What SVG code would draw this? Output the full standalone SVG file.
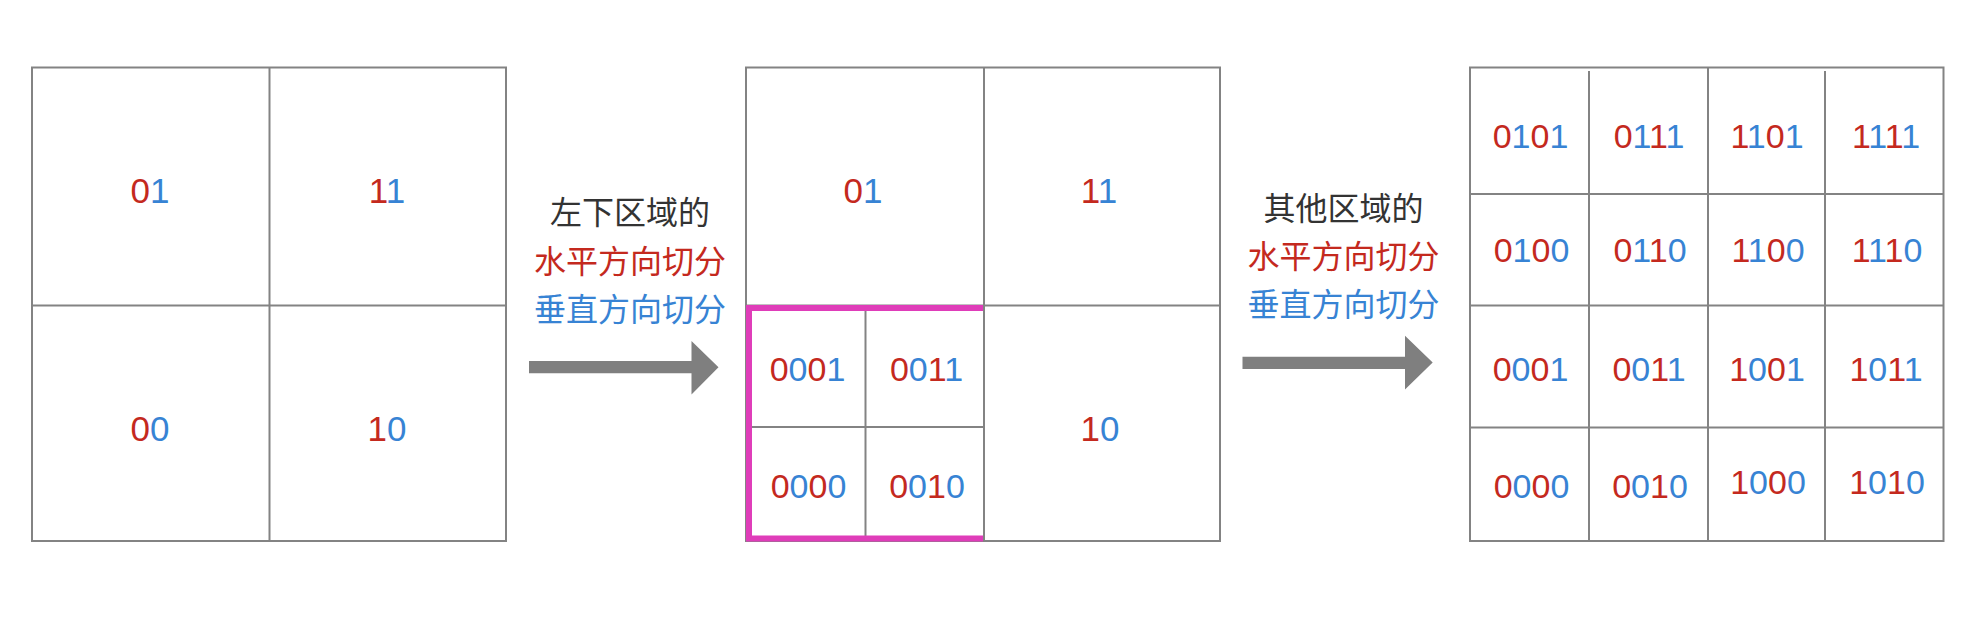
<svg xmlns="http://www.w3.org/2000/svg" width="1984" height="628" viewBox="0 0 1984 628">
<style>
.g{fill:none;stroke:#838383;stroke-width:2}
.t{font-family:"Liberation Sans",Arial,sans-serif;font-size:35px;text-anchor:middle}
.s{font-size:34px}
.r{fill:#C4291E}
.b{fill:#3783D4}
.c{font-family:"Noto Sans CJK SC",sans-serif;font-size:32px;text-anchor:middle}
.k{fill:#333333}
.ar{fill:#7F7F7F}
</style>
<rect width="1984" height="628" fill="#ffffff"/>
<g id="grid1">
<rect class="g" x="32" y="67.5" width="474" height="473.5"/>
<line class="g" x1="269.5" y1="67.5" x2="269.5" y2="541"/>
<line class="g" x1="32" y1="305.5" x2="506" y2="305.5"/>
<text class="t" x="150" y="203"><tspan class="r">0</tspan><tspan class="b">1</tspan></text>
<text class="t" x="387" y="203"><tspan class="r">1</tspan><tspan class="b">1</tspan></text>
<text class="t" x="150" y="441"><tspan class="r">0</tspan><tspan class="b">0</tspan></text>
<text class="t" x="387" y="441"><tspan class="r">1</tspan><tspan class="b">0</tspan></text>
</g>
<g id="grid2">
<rect class="g" x="746" y="67.5" width="474" height="473.5"/>
<line class="g" x1="984" y1="67.5" x2="984" y2="541"/>
<line class="g" x1="746" y1="305.5" x2="1220" y2="305.5"/>
<line class="g" x1="865.5" y1="305.5" x2="865.5" y2="541"/>
<line class="g" x1="749" y1="427" x2="984" y2="427"/>
<path d="M983 308 H749 V538.5 H983" fill="none" stroke="#DF3DB9" stroke-width="6"/>
<text class="t" x="863" y="203"><tspan class="r">0</tspan><tspan class="b">1</tspan></text>
<text class="t" x="1099" y="203"><tspan class="r">1</tspan><tspan class="b">1</tspan></text>
<text class="t" x="1100" y="441"><tspan class="r">1</tspan><tspan class="b">0</tspan></text>
<text class="t s" x="807.5" y="381"><tspan class="r">0</tspan><tspan class="b">0</tspan><tspan class="r">0</tspan><tspan class="b">1</tspan></text>
<text class="t s" x="926.5" y="381"><tspan class="r">0</tspan><tspan class="b">0</tspan><tspan class="r">1</tspan><tspan class="b">1</tspan></text>
<text class="t s" x="808.5" y="497.5"><tspan class="r">0</tspan><tspan class="b">0</tspan><tspan class="r">0</tspan><tspan class="b">0</tspan></text>
<text class="t s" x="927" y="497.5"><tspan class="r">0</tspan><tspan class="b">0</tspan><tspan class="r">1</tspan><tspan class="b">0</tspan></text>
</g>
<g id="grid3">
<rect class="g" x="1470" y="67.5" width="473.5" height="473.5"/>
<line class="g" x1="1589" y1="71" x2="1589" y2="541"/>
<line class="g" x1="1708" y1="67.5" x2="1708" y2="541"/>
<line class="g" x1="1825" y1="71" x2="1825" y2="541"/>
<line class="g" x1="1470" y1="194" x2="1943.5" y2="194"/>
<line class="g" x1="1470" y1="305.5" x2="1943.5" y2="305.5"/>
<line class="g" x1="1470" y1="427.5" x2="1943.5" y2="427.5"/>
<text class="t s" x="1530.5" y="148"><tspan class="r">0</tspan><tspan class="b">1</tspan><tspan class="r">0</tspan><tspan class="b">1</tspan></text>
<text class="t s" x="1649" y="148"><tspan class="r">0</tspan><tspan class="b">1</tspan><tspan class="r">1</tspan><tspan class="b">1</tspan></text>
<text class="t s" x="1767" y="148"><tspan class="r">1</tspan><tspan class="b">1</tspan><tspan class="r">0</tspan><tspan class="b">1</tspan></text>
<text class="t s" x="1886" y="148"><tspan class="r">1</tspan><tspan class="b">1</tspan><tspan class="r">1</tspan><tspan class="b">1</tspan></text>
<text class="t s" x="1531.5" y="262"><tspan class="r">0</tspan><tspan class="b">1</tspan><tspan class="r">0</tspan><tspan class="b">0</tspan></text>
<text class="t s" x="1650" y="262"><tspan class="r">0</tspan><tspan class="b">1</tspan><tspan class="r">1</tspan><tspan class="b">0</tspan></text>
<text class="t s" x="1768" y="262"><tspan class="r">1</tspan><tspan class="b">1</tspan><tspan class="r">0</tspan><tspan class="b">0</tspan></text>
<text class="t s" x="1887" y="262"><tspan class="r">1</tspan><tspan class="b">1</tspan><tspan class="r">1</tspan><tspan class="b">0</tspan></text>
<text class="t s" x="1530.5" y="381"><tspan class="r">0</tspan><tspan class="b">0</tspan><tspan class="r">0</tspan><tspan class="b">1</tspan></text>
<text class="t s" x="1649" y="381"><tspan class="r">0</tspan><tspan class="b">0</tspan><tspan class="r">1</tspan><tspan class="b">1</tspan></text>
<text class="t s" x="1767" y="381"><tspan class="r">1</tspan><tspan class="b">0</tspan><tspan class="r">0</tspan><tspan class="b">1</tspan></text>
<text class="t s" x="1886" y="381"><tspan class="r">1</tspan><tspan class="b">0</tspan><tspan class="r">1</tspan><tspan class="b">1</tspan></text>
<text class="t s" x="1531.5" y="497.5"><tspan class="r">0</tspan><tspan class="b">0</tspan><tspan class="r">0</tspan><tspan class="b">0</tspan></text>
<text class="t s" x="1650" y="497.5"><tspan class="r">0</tspan><tspan class="b">0</tspan><tspan class="r">1</tspan><tspan class="b">0</tspan></text>
<text class="t s" x="1768" y="494"><tspan class="r">1</tspan><tspan class="b">0</tspan><tspan class="r">0</tspan><tspan class="b">0</tspan></text>
<text class="t s" x="1887" y="494"><tspan class="r">1</tspan><tspan class="b">0</tspan><tspan class="r">1</tspan><tspan class="b">0</tspan></text>
</g>
<g id="connectors">
<g id="arrow1">
<polygon class="ar" points="529,361 691.5,361 691.5,341 718.5,367.2 691.5,394.5 691.5,373.3 529,373.3"/>
<text class="c k" x="630" y="224">左下区域的</text>
<text class="c r" x="630" y="273">水平方向切分</text>
<text class="c b" x="630" y="321">垂直方向切分</text>
</g>
<g id="arrow2">
<polygon class="ar" points="1242.5,356.7 1405,356.7 1405,335.7 1432.7,362.6 1405,389.5 1405,369 1242.5,369"/>
<text class="c k" x="1343.5" y="220">其他区域的</text>
<text class="c r" x="1343.5" y="268">水平方向切分</text>
<text class="c b" x="1343.5" y="316">垂直方向切分</text>
</g>
</g>
</svg>
